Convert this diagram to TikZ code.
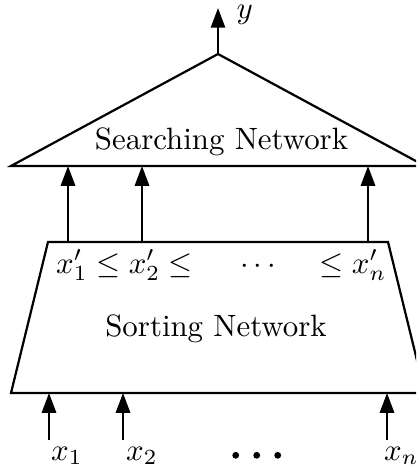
\documentclass[tikz,border=0pt]{standalone}
\usetikzlibrary{arrows.meta}
\begin{document}
\begin{tikzpicture}[x=0.324pt,y=-0.324pt,
  line width=0.72pt,
  wire/.style={-{Triangle[length=6.4pt,width=4.6pt]}},
  lbl/.style={inner sep=0pt, anchor=base},
  dotmark/.style={circle, fill, inner sep=0pt, minimum size=2.2pt}]
\useasboundingbox (0,0) rectangle (416,470);
\clip (0,0) rectangle (416,470);

% Searching network (triangle)
\coordinate (apex) at (218,54);
\coordinate (sbl) at (11,166);
\coordinate (sbr) at (425,166);
\draw (sbl) -- (apex) -- (sbr) -- cycle;
\node[lbl] (search) at (221.5,150) {Searching Network};

% Output
\coordinate (yend) at (218,8);
\draw[wire] (apex) -- (yend);
\node[lbl, anchor=base west] (ylbl) at (235.5,18.5) {$y$};

% Sorting network (trapezoid)
\coordinate (ttl) at (48,242);
\coordinate (ttr) at (388,242);
\coordinate (tbr) at (425,393);
\coordinate (tbl) at (11,393);
\draw (ttl) -- (ttr) -- (tbr) -- (tbl) -- cycle;
\node[lbl] (sort) at (216,336) {Sorting Network};

% Sorted outputs
\node[lbl, anchor=base west] (ordA) at (55,273) {$x_1'\le x_2'\le$};
\node[lbl] (ordB) at (258,273) {$\cdots$};
\node[lbl, anchor=base east] (ordC) at (387.5,273) {$\le x_n'$};

% Connections between the two networks
\foreach \i/\x in {1/68,2/142,3/368}{
  \coordinate (mfrom\i) at (\x,242);
  \coordinate (mto\i) at (\x,166);
  \draw[wire] (mfrom\i) -- (mto\i);
}

% Inputs
\foreach \i/\x in {1/49,2/123,3/387}{
  \coordinate (ifrom\i) at (\x,440);
  \coordinate (ito\i) at (\x,393);
  \draw[wire] (ifrom\i) -- (ito\i);
}
\node[lbl, anchor=base west] (in1) at (50,460) {$x_1$};
\node[lbl, anchor=base west] (in2) at (125,460) {$x_2$};
\node[lbl, anchor=base west] (in3) at (383,460) {$x_n$};
\node[dotmark] (d1) at (235.7,455.3) {};
\node[dotmark] (d2) at (256.7,455.3) {};
\node[dotmark] (d3) at (277.7,455.3) {};
\end{tikzpicture}
\end{document}
